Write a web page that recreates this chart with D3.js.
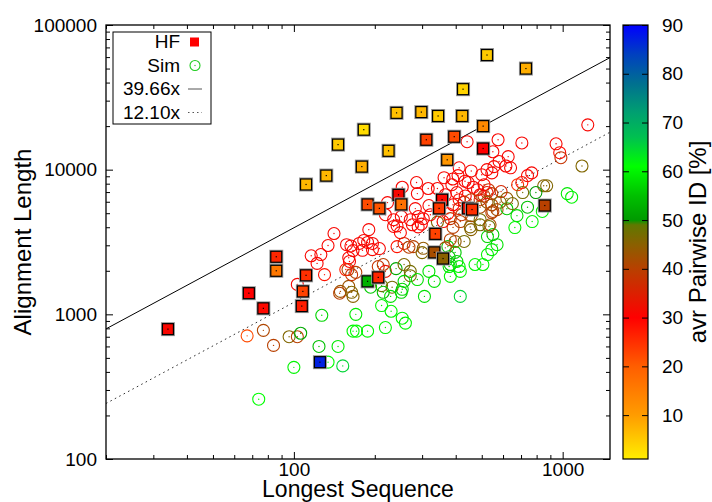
<!DOCTYPE html>
<html>
<head>
<meta charset="utf-8">
<script src="https://cdn.jsdelivr.net/npm/d3@7"></script>
<style>
  body { margin: 0; background: #fff; }
  svg text { font-family: "Liberation Sans", Arial, Helvetica, sans-serif; fill: #000; }
</style>
</head>
<body>
<svg id="chart" width="712" height="502"></svg>
<script>
// HF: longest sequence, alignment length, avr pairwise id
let hfLen = [34, 68, 77, 86, 86, 111, 108, 107, 125, 111, 132, 146, 182, 225, 179, 311, 245, 188, 208, 251,
  356, 347, 372, 241, 298, 344, 423, 426, 523, 730, 506, 395, 506, 445, 460, 336, 858, 333, 359, 188, 206];
let hfAln = [790, 1400, 1100, 2500, 2000, 1860, 1440, 1140, 467, 7900, 9100, 14900, 18900, 13500, 10500, 16100, 6700, 5750, 5400, 5750,
  6200, 5400, 11700, 24700, 25000, 23500, 23500, 36000, 62000, 50000, 20000, 16900, 14000, 5400, 5300, 3600, 5650, 2680, 2430, 1690, 1800];
let hfId = [31, 30, 29, 26, 16, 25, 23, 27, 87, 7, 7, 5, 3, 6, 8, 23, 31, 22, 21, 17,
  29, 24, 11, 6, 7, 5, 7, 4, 5, 8, 13, 22, 30, 28, 25, 23, 40, 42, 45, 53, 26];

// Sim
let simLen = [67,77,84,96,103,106,103,116,122,126,
  130,134,141,127,124,100,74,134,146,152,
  170,166,171,188,219,159,170,160,149,148,
  166,157,163,166,160,161,156,182,188,196,
  196,208,180,175,190,235,249,276,298,242,
  257,268,278,303,300,206,215,219,240,257,
  271,271,288,318,212,232,215,253,251,229,
  193,306,212,230,253,260,333,257,164,164,
  342,374,378,378,398,404,382,416,412,382,
  416,472,505,525,545,570,525,550,493,532,
  456,398,382,430,366,382,416,391,359,545,
  570,453,286,316,288,253,362,223,219,251,
  283,318,290,271,235,303,322,374,290,242,
  441,575,705,945,1240,975,985,1180,550,627,
  580,555,615,640,523,545,500,767,740,705,
  680,850,872,1040,1080,795,710,740,840,676,
  620,770,664,620,590,545,530,523,510,493,
  465,482,445,433,510,457,412,408,390,387,
  342,366,404,412,434,493,523,545,585,457,
  430,493,550,412,421,457,493,537,650,391];
let simAln = [710,775,610,700,700,740,1610,2540,2250,2590,
  1880,2990,3620,985,600,430,259,467,600,440,
  1000,765,765,765,810,2040,1950,1560,1440,1400,
  1330,3030,2970,2760,2460,2320,2040,3240,3140,3090,
  2800,2850,2770,3090,3850,4050,3670,4160,4200,2940,
  3090,2910,2940,2860,2670,2140,2210,1980,2070,2210,
  1980,1850,1740,1980,1580,1540,1420,1490,1420,1330,
  1540,1330,1150,1050,940,870,1690,1690,1420,1880,
  4340,2940,2500,2140,2680,2320,2210,1980,2140,1830,
  1330,2210,2210,2590,2800,3030,3450,3560,4160,4050,
  3850,3190,3280,3190,2880,4590,4380,3990,4380,5050,
  5290,4020,8150,7410,6830,7560,8800,5920,4880,4740,
  5380,5650,4740,4510,4510,4580,4880,4960,4020,4090,
  15600,16100,15300,15100,20400,13100,12100,10600,13300,12300,
  11400,10500,10600,10300,10000,9500,9230,9500,9100,8150,
  7870,7740,7740,6830,6450,6950,6950,5500,5140,4810,
  5370,4380,3980,6330,7060,6830,7270,6950,6580,6710,
  7560,7270,8150,8320,7870,9800,10300,9100,8620,7870,
  7410,6710,6950,6200,6580,6200,5960,5720,5960,6200,
  5960,5500,5140,5380,4880,4810,4510,4160,5830,5720];
let simId = [22,41,40,46,40,52,31,31,31,31,
  28,31,31,57,55,60,61,61,59,65,
  59,60,61,60,60,41,40,43,43,40,
  45,31,31,31,31,31,27,31,31,31,
  31,31,31,31,31,31,29,31,31,28,
  35,40,40,44,46,38,40,33,52,46,
  47,47,58,58,48,47,55,57,57,58,
  56,58,60,60,60,60,58,57,46,38,
  46,55,55,58,56,57,55,60,60,60,
  65,60,60,60,59,58,57,56,47,48,
  45,44,40,47,42,38,40,40,31,40,
  42,46,31,31,31,31,31,31,31,31,
  31,31,31,31,31,31,31,28,31,31,
  31,31,31,31,31,29,38,46,31,31,
  31,31,31,31,31,31,31,31,31,28,
  25,45,46,59,60,50,47,55,60,58,
  56,60,60,44,36,40,38,33,40,31,
  31,31,31,31,31,31,31,31,31,31,
  31,31,31,28,31,37,44,41,46,40,
  36,41,40,36,38,42,47,42,47,30];

let fitSlopes = [39.66, 12.10];
let fitLabels = ['39.66x', '12.10x'];
let xTicks = [100, 1000];
let yTicks = [100, 1000, 10000, 100000];
let idTicks = [10, 20, 30, 40, 50, 60, 70, 80, 90];
let idStops  = [1, 10, 20, 30, 40, 45, 49, 50, 55, 61, 67, 72, 78, 84, 90];
let idColors = ['#ffee00', '#ff9c00', '#ff5e00', '#ff0000', '#b84000', '#8a6000', '#607800', '#009a00',
  '#00c000', '#00ff00', '#00c050', '#00a070', '#007090', '#0040c0', '#0000ff'];

let margin = { top: 25, right: 102, bottom: 43, left: 106 };
let width = 712 - margin.left - margin.right;
let height = 502 - margin.top - margin.bottom;

let x = d3.scaleLog().domain([20, 1500]).range([0, width]);
let y = d3.scaleLog().domain([100, 100000]).range([height, 0]);
let color = d3.scaleLinear().domain(idStops).range(idColors).clamp(true);

let svg = d3.select('#chart');
let chart = svg.append('g')
    .attr('transform', 'translate(' + margin.left + ',' + margin.top + ')');

chart.append('clipPath').attr('id', 'clip')
  .append('rect').attr('width', width).attr('height', height);

// minor log ticks
function minors(lo, hi) {
  let out = [];
  for (let d = 1; d <= 100000; d *= 10)
    for (let k = 2; k <= 9; k++)
      if (k * d > lo && k * d < hi) out.push(k * d);
  return out;
}
let xMinor = minors(20, 1500).concat([20]);
let yMinor = minors(100, 100000);

function styleAxis(sel) {
  sel.select('.domain').remove();
  sel.selectAll('line').attr('stroke', '#000');
  sel.selectAll('text').attr('font-size', 19).attr('fill', '#000')
     .attr('font-family', '"Liberation Sans", Arial, sans-serif');
}

// left / right
chart.append('g')
    .call(d3.axisLeft(y).tickValues(yTicks).tickSize(-7).tickPadding(9).tickFormat(d3.format('d')))
    .call(styleAxis);
chart.append('g')
    .call(d3.axisLeft(y).tickValues(yMinor).tickSize(-4).tickFormat(''))
    .call(styleAxis);
chart.append('g').attr('transform', 'translate(' + width + ',0)')
    .call(d3.axisRight(y).tickValues(yTicks).tickSize(-7).tickFormat(''))
    .call(styleAxis);
chart.append('g').attr('transform', 'translate(' + width + ',0)')
    .call(d3.axisRight(y).tickValues(yMinor).tickSize(-4).tickFormat(''))
    .call(styleAxis);

// bottom / top
chart.append('g').attr('transform', 'translate(0,' + height + ')')
    .call(d3.axisBottom(x).tickValues(xTicks).tickSize(-7).tickPadding(4).tickFormat(d3.format('d')))
    .call(styleAxis);
chart.append('g').attr('transform', 'translate(0,' + height + ')')
    .call(d3.axisBottom(x).tickValues(xMinor).tickSize(-4).tickFormat(''))
    .call(styleAxis);
chart.append('g')
    .call(d3.axisTop(x).tickValues(xTicks).tickSize(-7).tickFormat(''))
    .call(styleAxis);
chart.append('g')
    .call(d3.axisTop(x).tickValues(xMinor).tickSize(-4).tickFormat(''))
    .call(styleAxis);

// fit lines
let line = d3.line().x(d => x(d[0])).y(d => y(d[1]));
let plot = chart.append('g').attr('clip-path', 'url(#clip)');
fitSlopes.forEach(function(s, i) {
  plot.append('path')
      .datum(x.domain().map(v => [v, v * s]))
      .attr('d', line)
      .attr('fill', 'none')
      .attr('stroke', i == 0 ? '#000' : '#333')
      .attr('stroke-width', 1)
      .attr('stroke-dasharray', i == 0 ? null : '1.6,3.4');
});

// Sim circles
let sims = simLen.map((v, i) => [v, simAln[i], simId[i]]);
let sim = plot.selectAll('g.sim')
    .data(sims)
  .enter().append('g')
    .attr('class', 'sim')
    .attr('transform', d => 'translate(' + x(d[0]) + ',' + y(d[1]) + ')');
sim.append('circle')
    .attr('r', 6)
    .attr('fill', 'none')
    .attr('stroke', d => color(d[2]))
    .attr('stroke-width', 1.1);
sim.append('circle')
    .attr('r', 0.7)
    .attr('fill', d => color(d[2]));

// HF squares
let hfs = hfLen.map((v, i) => [v, hfAln[i], hfId[i]]);
let hf = plot.selectAll('g.hf')
    .data(hfs)
  .enter().append('g')
    .attr('class', 'hf')
    .attr('transform', d => 'translate(' + x(d[0]) + ',' + y(d[1]) + ')');
hf.append('rect')
    .attr('x', -5.5).attr('y', -5.5).attr('width', 11).attr('height', 11)
    .attr('fill', 'none').attr('stroke', '#999').attr('stroke-width', 3);
hf.append('rect')
    .attr('x', -5.5).attr('y', -5.5).attr('width', 11).attr('height', 11)
    .attr('fill', d => color(d[2])).attr('stroke', '#000').attr('stroke-width', 1.2);
hf.append('rect')
    .attr('x', -0.6).attr('y', -0.6).attr('width', 1.2).attr('height', 1.2)
    .attr('fill', '#000');

// frame
chart.append('rect')
    .attr('width', width).attr('height', height)
    .attr('fill', 'none').attr('stroke', '#000').attr('stroke-width', 1.3);

// legend
let legend = chart.append('g').attr('transform', 'translate(7,7)');
legend.append('rect')
    .attr('width', 98).attr('height', 92)
    .attr('fill', '#fff').attr('stroke', '#000').attr('stroke-width', 1);
let legNames = ['HF', 'Sim'].concat(fitLabels);
legNames.forEach(function(name, i) {
  let ly = 16 + i * 23.5;
  legend.append('text')
      .attr('x', 67).attr('y', ly)
      .attr('text-anchor', 'end')
      .attr('font-size', 19)
      .text(name);
  let cy = ly - 6;
  if (i == 0) {
    legend.append('rect').attr('x', 77).attr('y', cy - 4.5).attr('width', 9).attr('height', 9).attr('fill', '#ff0000');
  } else if (i == 1) {
    legend.append('circle').attr('cx', 82).attr('cy', cy).attr('r', 5).attr('fill', 'none').attr('stroke', '#1fcc1f').attr('stroke-width', 1.1);
    legend.append('circle').attr('cx', 82).attr('cy', cy).attr('r', 0.7).attr('fill', '#1fcc1f');
  } else {
    legend.append('line').attr('x1', 75).attr('x2', 89).attr('y1', cy).attr('y2', cy)
        .attr('stroke', '#555').attr('stroke-width', 1)
        .attr('stroke-dasharray', i == 2 ? null : '1.5,3');
  }
});

// axis titles
svg.append('text')
    .attr('x', margin.left + width / 2).attr('y', 497)
    .attr('text-anchor', 'middle').attr('font-size', 23)
    .text('Longest Sequence');
svg.append('text')
    .attr('transform', 'translate(31,' + (margin.top + height / 2) + ') rotate(-90)')
    .attr('text-anchor', 'middle').attr('font-size', 24)
    .text('Alignment Length');

// colour bar
let cbX = 623, cbW = 25;
let cy = d3.scaleLinear().domain([1, 90]).range([height, 0]);
let grad = svg.append('defs').append('linearGradient')
    .attr('id', 'cbgrad').attr('x1', 0).attr('y1', 1).attr('x2', 0).attr('y2', 0);
idStops.forEach(function(v, i) {
  grad.append('stop').attr('offset', (v - 1) / 89).attr('stop-color', idColors[i]);
});
let cb = svg.append('g').attr('transform', 'translate(' + cbX + ',' + margin.top + ')');
cb.append('rect')
    .attr('width', cbW).attr('height', height)
    .attr('fill', 'url(#cbgrad)').attr('stroke', '#000').attr('stroke-width', 1.2);
cb.append('g')
    .call(d3.axisLeft(cy).tickValues(idTicks).tickSize(-6).tickFormat(''))
    .call(styleAxis);
cb.append('g').attr('transform', 'translate(' + cbW + ',0)')
    .call(d3.axisRight(cy).tickValues(idTicks).tickSize(-6).tickPadding(14).tickFormat(d3.format('d')))
    .call(styleAxis);
svg.append('text')
    .attr('transform', 'translate(706,' + (margin.top + height / 2) + ') rotate(-90)')
    .attr('text-anchor', 'middle').attr('font-size', 24)
    .text('avr Pairwise ID [%]');
</script>
</body>
</html>
